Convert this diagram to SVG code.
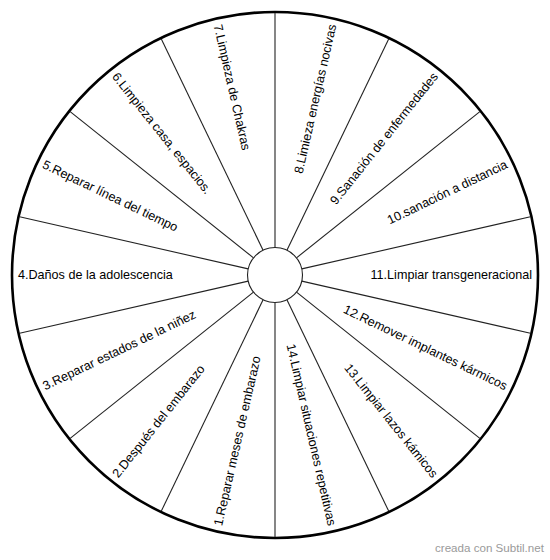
<svg xmlns="http://www.w3.org/2000/svg" width="550" height="560" viewBox="0 0 550 560">
<style>
.spoke{stroke:#222;stroke-width:1.1;fill:none}
.lbl{font-family:"Liberation Sans",Arial,sans-serif;font-size:12.6px;fill:#000}
.r{text-anchor:end}
.l{text-anchor:start}
.wm{font-family:"Liberation Sans",Arial,sans-serif;font-size:11.6px;fill:#9a9a9a}
</style>
<rect width="550" height="560" fill="#fff"/>
<g id="wheel" transform="translate(275,275)">
<circle id="outer" r="263" fill="#fff" stroke="#000" stroke-width="2.6"/>
<g id="connectors">
<line class="spoke" x1="27.5" x2="262" transform="rotate(-90)"/>
<line class="spoke" x1="27.5" x2="262" transform="rotate(-64.286)"/>
<line class="spoke" x1="27.5" x2="262" transform="rotate(-38.571)"/>
<line class="spoke" x1="27.5" x2="262" transform="rotate(-12.857)"/>
<line class="spoke" x1="27.5" x2="262" transform="rotate(12.857)"/>
<line class="spoke" x1="27.5" x2="262" transform="rotate(38.571)"/>
<line class="spoke" x1="27.5" x2="262" transform="rotate(64.286)"/>
<line class="spoke" x1="27.5" x2="262" transform="rotate(90)"/>
<line class="spoke" x1="27.5" x2="262" transform="rotate(115.714)"/>
<line class="spoke" x1="27.5" x2="262" transform="rotate(141.429)"/>
<line class="spoke" x1="27.5" x2="262" transform="rotate(167.143)"/>
<line class="spoke" x1="27.5" x2="262" transform="rotate(192.857)"/>
<line class="spoke" x1="27.5" x2="262" transform="rotate(218.571)"/>
<line class="spoke" x1="27.5" x2="262" transform="rotate(244.286)"/>
</g>
<circle id="hub" r="27.5" fill="#fff" stroke="#222" stroke-width="1.1"/>
<g id="s1" transform="rotate(-77.143)"><text class="lbl l" x="-257" y="4.3">1.Reparar meses de embarazo</text></g>
<g id="s2" transform="rotate(-51.429)"><text class="lbl l" x="-257" y="4.3">2.Después del embarazo</text></g>
<g id="s3" transform="rotate(-25.714)"><text class="lbl l" x="-257" y="4.3">3.Reparar estados de la niñez</text></g>
<g id="s4" transform="rotate(0)"><text class="lbl l" x="-257" y="4.3">4.Daños de la adolescencia</text></g>
<g id="s5" transform="rotate(25.714)"><text class="lbl l" x="-257" y="4.3">5.Reparar línea del tiempo</text></g>
<g id="s6" transform="rotate(51.429)"><text class="lbl l" x="-257" y="4.3">6.Limpieza casa, espacios.</text></g>
<g id="s7" transform="rotate(77.143)"><text class="lbl l" x="-257" y="4.3">7.Limpieza de Chakras</text></g>
<g id="s8" transform="rotate(-77.143)"><text class="lbl r" x="257" y="4.3">8.Limieza energías nocivas</text></g>
<g id="s9" transform="rotate(-51.429)"><text class="lbl r" x="257" y="4.3">9.Sanación de enfermedades</text></g>
<g id="s10" transform="rotate(-25.714)"><text class="lbl r" x="257" y="4.3">10.sanación a distancia</text></g>
<g id="s11" transform="rotate(0)"><text class="lbl r" x="257" y="4.3">11.Limpiar transgeneracional</text></g>
<g id="s12" transform="rotate(25.714)"><text class="lbl r" x="257" y="4.3">12.Remover implantes kármicos</text></g>
<g id="s13" transform="rotate(51.429)"><text class="lbl r" x="257" y="4.3">13.Limpiar lazos kámicos</text></g>
<g id="s14" transform="rotate(77.143)"><text class="lbl r" x="257" y="4.3">14.Limpiar situaciones repetitivas</text></g>
</g>
<text class="wm" x="435" y="552">creada con Subtil.net</text>
</svg>
